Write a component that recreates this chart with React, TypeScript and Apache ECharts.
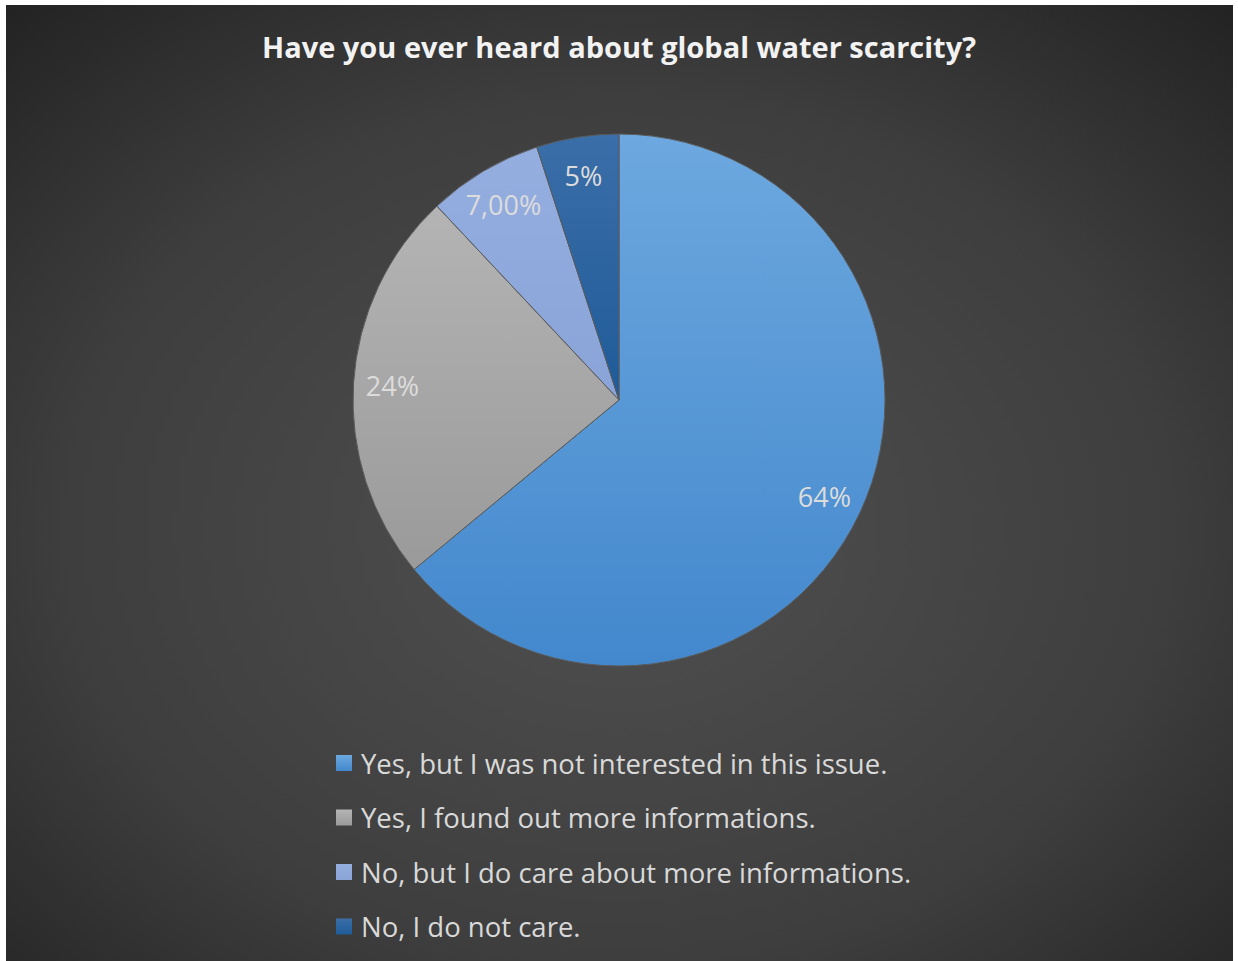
import React, { useEffect, useRef } from "react";
import * as echarts from "echarts";

const TITLE = "Have you ever heard about global water scarcity?";
const categories = [
  "Yes, but I was not interested in this issue.",
  "Yes, I found out more informations.",
  "No, but I do care about more informations.",
  "No, I do not care.",
];
const values = [64, 24, 7, 5];
const valueLabels = ["64%", "24%", "7,00%", "5%"];
const topColors = ["#6da8df", "#b4b4b4", "#95aee0", "#3a6ea8"];
const bottomColors = ["#4388cd", "#9a9a9a", "#8aa4d8", "#1f5b99"];

export default function App() {
  const ref = useRef<HTMLDivElement>(null);
  useEffect(() => {
    if (!ref.current) return;
    const chart = echarts.init(ref.current, null, { renderer: "svg" });
    const grad = (i: number) =>
      new echarts.graphic.LinearGradient(0, 0, 0, 1, [
        { offset: 0, color: topColors[i] },
        { offset: 1, color: bottomColors[i] },
      ]);
    const data = categories.map((name, i) => ({
      name,
      value: values[i],
      itemStyle: { color: grad(i) },
    }));
    const labelData = categories.map((name, i) => ({
      name,
      value: values[i],
      label: { formatter: valueLabels[i] },
    }));
    chart.setOption({
      animation: false,
      backgroundColor: "#ffffff",
      graphic: [
        {
          type: "rect",
          z: -10,
          silent: true,
          shape: { x: 6, y: 5, width: 1227, height: 956 },
          style: {
            fill: new echarts.graphic.RadialGradient(0.5, 0.55, 0.75, [
              { offset: 0, color: "#505050" },
              { offset: 0.6, color: "#3e3e3e" },
              { offset: 1, color: "#222222" },
            ]),
          },
        },
      ],
      title: {
        text: TITLE,
        left: "center",
        top: 27,
        textStyle: {
          color: "#f2f2f2",
          fontFamily: "Open Sans",
          fontWeight: "bold",
          fontSize: 29,
        },
      },
      legend: {
        orient: "vertical",
        left: 331,
        top: 743,
        itemWidth: 16,
        itemHeight: 16,
        itemGap: 24.5,
        icon: "rect",
        selectedMode: false,
        itemStyle: { borderWidth: 0 },
        data: categories,
        textStyle: {
          color: "#d9d9d9",
          fontFamily: "Open Sans",
          fontSize: 27.5,
          lineHeight: 30,
          padding: [0, 0, 0, 4],
        },
      },
      series: [
        {
          type: "pie",
          center: [619, 400],
          radius: [0, 266],
          startAngle: 90,
          clockwise: true,
          label: { show: false },
          labelLine: { show: false },
          emphasis: { disabled: true },
          itemStyle: { borderColor: "#5a5a5a", borderWidth: 1 },
          data,
        },
        {
          type: "pie",
          center: [619, 400],
          radius: [182, 266],
          startAngle: 90,
          clockwise: true,
          silent: true,
          legendHoverLink: false,
          emphasis: { disabled: true },
          itemStyle: { color: "rgba(0,0,0,0)", borderWidth: 0 },
          label: {
            show: true,
            position: "inside",
            color: "#dcdcdc",
            fontFamily: "Open Sans",
            fontSize: 27,
          },
          labelLine: { show: false },
          data: labelData,
        },
      ],
    });
    return () => chart.dispose();
  }, []);
  return (
    <div
      ref={ref}
      style={{ position: "absolute", left: 0, top: 0, width: 1238, height: 961 }}
    />
  );
}
